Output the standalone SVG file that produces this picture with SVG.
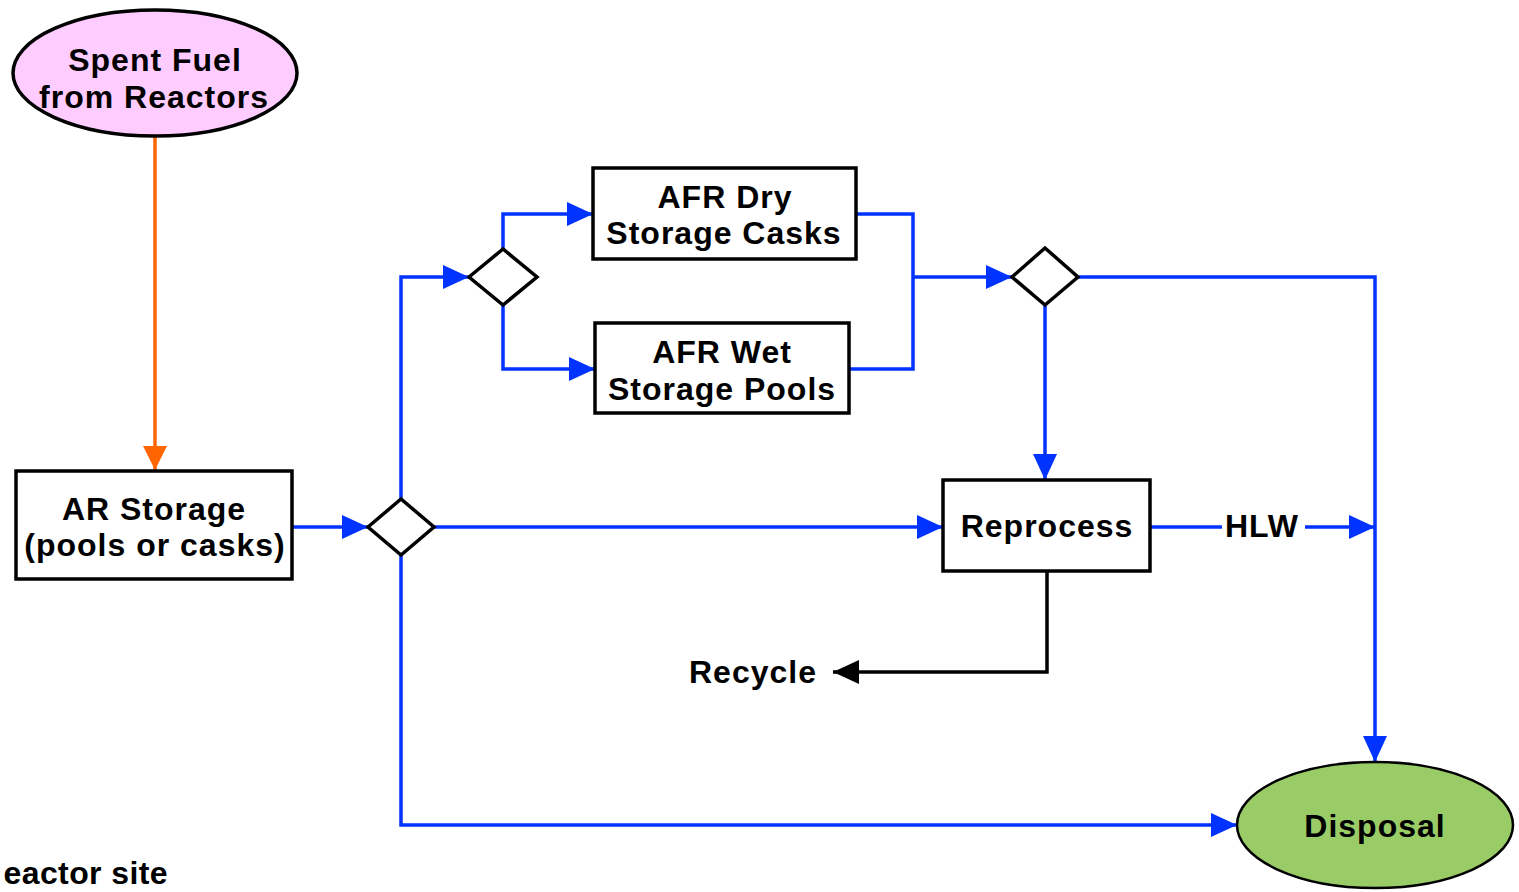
<svg xmlns="http://www.w3.org/2000/svg" width="1519" height="892" viewBox="0 0 1519 892">
<style>
text{font-family:"Liberation Sans",Arial,sans-serif;font-weight:bold;font-size:32px;letter-spacing:1px;fill:#000;text-anchor:middle}
.box{fill:#fff;stroke:#000;stroke-width:3.5}
.dia{fill:#fff;stroke:#000;stroke-width:3.5;stroke-linejoin:miter}
.b{fill:none;stroke:#0033FF;stroke-width:3.5}
.k{fill:none;stroke:#000;stroke-width:3.5}
.o{fill:none;stroke:#FF6600;stroke-width:3.5}
</style>
<defs>
<marker id="ab" markerUnits="userSpaceOnUse" markerWidth="26" markerHeight="24" refX="26" refY="12" orient="auto"><path d="M0,0 L26,12 L0,24 z" fill="#0033FF"/></marker>
<marker id="ak" markerUnits="userSpaceOnUse" markerWidth="26" markerHeight="24" refX="26" refY="12" orient="auto"><path d="M0,0 L26,12 L0,24 z" fill="#000"/></marker>
<marker id="ao" markerUnits="userSpaceOnUse" markerWidth="24" markerHeight="24" refX="24" refY="12" orient="auto"><path d="M0,0 L24,12 L0,24 z" fill="#FF6600"/></marker>
</defs>
<g id="connectors">
<path class="o" d="M155,137 V470" marker-end="url(#ao)"/>
<path class="b" d="M292,527 H368" marker-end="url(#ab)"/>
<path class="b" d="M401,499 V277 H469" marker-end="url(#ab)"/>
<path class="b" d="M503,249 V214 H593" marker-end="url(#ab)"/>
<path class="b" d="M503,305 V369 H595" marker-end="url(#ab)"/>
<path class="b" d="M856,214 H913 V369 H849"/>
<path class="b" d="M913,277 H1012" marker-end="url(#ab)"/>
<path class="b" d="M1045,305 V480" marker-end="url(#ab)"/>
<path class="b" d="M1078,277 H1375 V762" marker-end="url(#ab)"/>
<path class="b" d="M434,527 H943" marker-end="url(#ab)"/>
<path class="b" d="M1150,527 H1222"/>
<path class="b" d="M1305,527 H1375" marker-end="url(#ab)"/>
<path class="b" d="M401,555 V825 H1237" marker-end="url(#ab)"/>
<path class="k" d="M1047,571 V672 H833" marker-end="url(#ak)"/>
<text x="1262" y="537">HLW</text>
<text x="753" y="683">Recycle</text>
</g>
<g id="spent-fuel">
<ellipse cx="155" cy="73" rx="142" ry="63" fill="#FFCCFF" stroke="#000" stroke-width="3.5"/>
<text x="155" y="71">Spent Fuel</text>
<text x="154" y="108">from Reactors</text>
</g>
<g id="ar-storage">
<rect class="box" x="16" y="471" width="276" height="108"/>
<text x="154" y="520">AR Storage</text>
<text x="155" y="556">(pools or casks)</text>
</g>
<g id="diamond1"><polygon class="dia" points="368,527 401,499 434,527 401,555"/></g>
<g id="diamond2"><polygon class="dia" points="469,277 503,249 537,277 503,305"/></g>
<g id="diamond3"><polygon class="dia" points="1012,277 1045,248 1078,277 1045,305"/></g>
<g id="afr-dry">
<rect class="box" x="593" y="168" width="263" height="91"/>
<text x="725" y="208">AFR Dry</text>
<text x="724" y="244">Storage Casks</text>
</g>
<g id="afr-wet">
<rect class="box" x="595" y="323" width="254" height="90"/>
<text x="722" y="363">AFR Wet</text>
<text x="722" y="400">Storage Pools</text>
</g>
<g id="reprocess">
<rect class="box" x="943" y="480" width="207" height="91"/>
<text x="1047" y="537">Reprocess</text>
</g>
<g id="disposal">
<ellipse cx="1375" cy="825" rx="138" ry="63" fill="#99CC66" stroke="#000" stroke-width="2.5"/>
<text x="1375" y="837">Disposal</text>
</g>
<text x="168" y="884" style="text-anchor:end;letter-spacing:0.4px">eactor site</text>
</svg>
